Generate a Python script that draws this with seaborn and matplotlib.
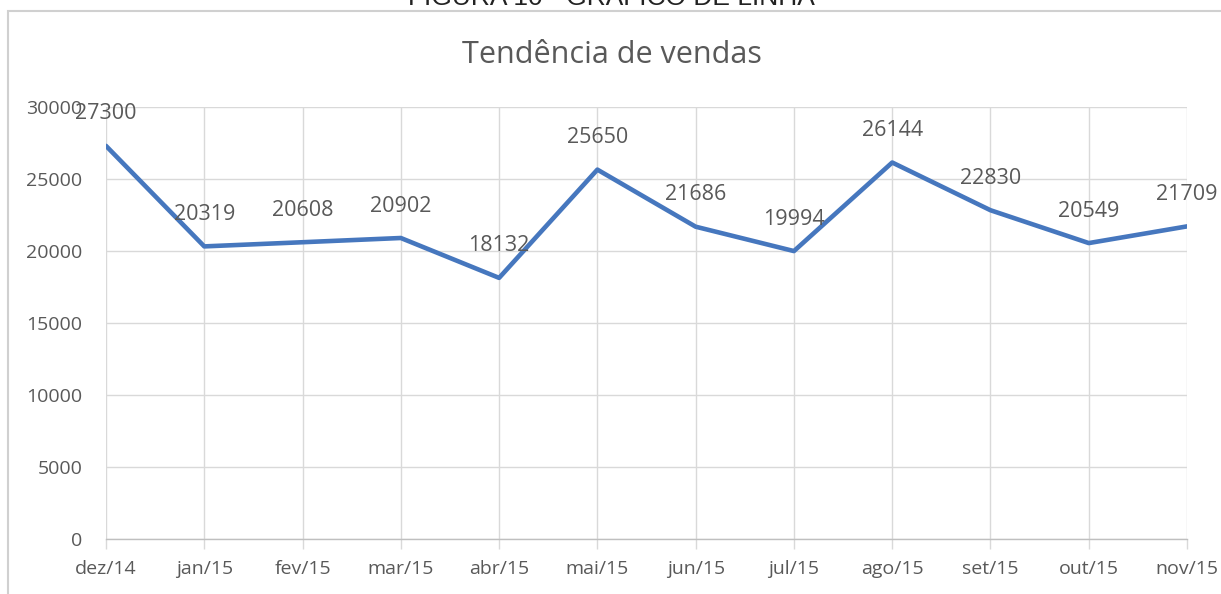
import matplotlib
matplotlib.use("Agg")
import matplotlib.pyplot as plt
import seaborn as sns
import pandas as pd
from matplotlib.patches import Rectangle

months = ["dez/14", "jan/15", "fev/15", "mar/15", "abr/15", "mai/15",
          "jun/15", "jul/15", "ago/15", "set/15", "out/15", "nov/15"]
sales = [27300, 20319, 20608, 20902, 18132, 25650,
         21686, 19994, 26144, 22830, 20549, 21709]
y_ticks = [0, 5000, 10000, 15000, 20000, 25000, 30000]

title = "Tendência de vendas"
caption = "FIGURA 10 - GRÁFICO DE LINHA"

sns.set_theme(style="white")
plt.rcParams["font.family"] = ["Open Sans", "DejaVu Sans"]

TXT = "#595959"
GRID = "#d9d9d9"
LINE = "#4677BE"

df = pd.DataFrame({"pos": range(len(months)), "mes": months, "vendas": sales})

fig = plt.figure(figsize=(12.21, 5.94), dpi=100)
ax = fig.add_axes([0.0868, 0.0926, 0.9722 - 0.0868, 0.8199 - 0.0926])

sns.lineplot(data=df, x="pos", y="vendas", ax=ax, color=LINE, linewidth=3.3,
             sort=False, solid_capstyle="round", solid_joinstyle="round", zorder=3)

ax.set_xlim(0, len(months) - 1)
ax.set_ylim(0, 30000)
ax.set_xticks(range(len(months)))
ax.set_xticklabels(months)
ax.set_yticks(y_ticks)
ax.set_yticklabels([str(v) for v in y_ticks])
ax.set_xlabel("")
ax.set_ylabel("")

ax.grid(True, color=GRID, linewidth=1.0)
for s in ["top", "right", "left"]:
    ax.spines[s].set_visible(False)
ax.spines["bottom"].set_color("#bfbfbf")
ax.spines["bottom"].set_linewidth(1.0)

ax.tick_params(axis="x", colors=TXT, labelsize=14, length=7, width=1,
               color=GRID, direction="out", pad=8, bottom=True)
ax.tick_params(axis="y", colors=TXT, labelsize=14, length=0, pad=17)
for lab in ax.get_xticklabels():
    lab.set_color(TXT)
for lab in ax.get_yticklabels():
    lab.set_color(TXT)

for i, v in enumerate(sales):
    ax.annotate(str(v), (i, v), xytext=(0, 23), textcoords="offset points",
                ha="center", va="center", fontsize=15.5, color=TXT,
                annotation_clip=False, zorder=4)

fig.text(0.501, 0.907, title, ha="center", va="center", fontsize=22, color=TXT)
fig.text(0.501, 1 - 5 / 594, caption, ha="center", va="baseline",
         fontsize=19, color="#222222", family=["Liberation Sans", "DejaVu Sans"])

fig.patches.append(Rectangle((8 / 1221, -0.1), 1.2, 1 - 11 / 594 + 0.1,
                             transform=fig.transFigure, fill=False,
                             edgecolor="#d0d0d0", linewidth=1.5))

fig.savefig("out.png", dpi=100)
